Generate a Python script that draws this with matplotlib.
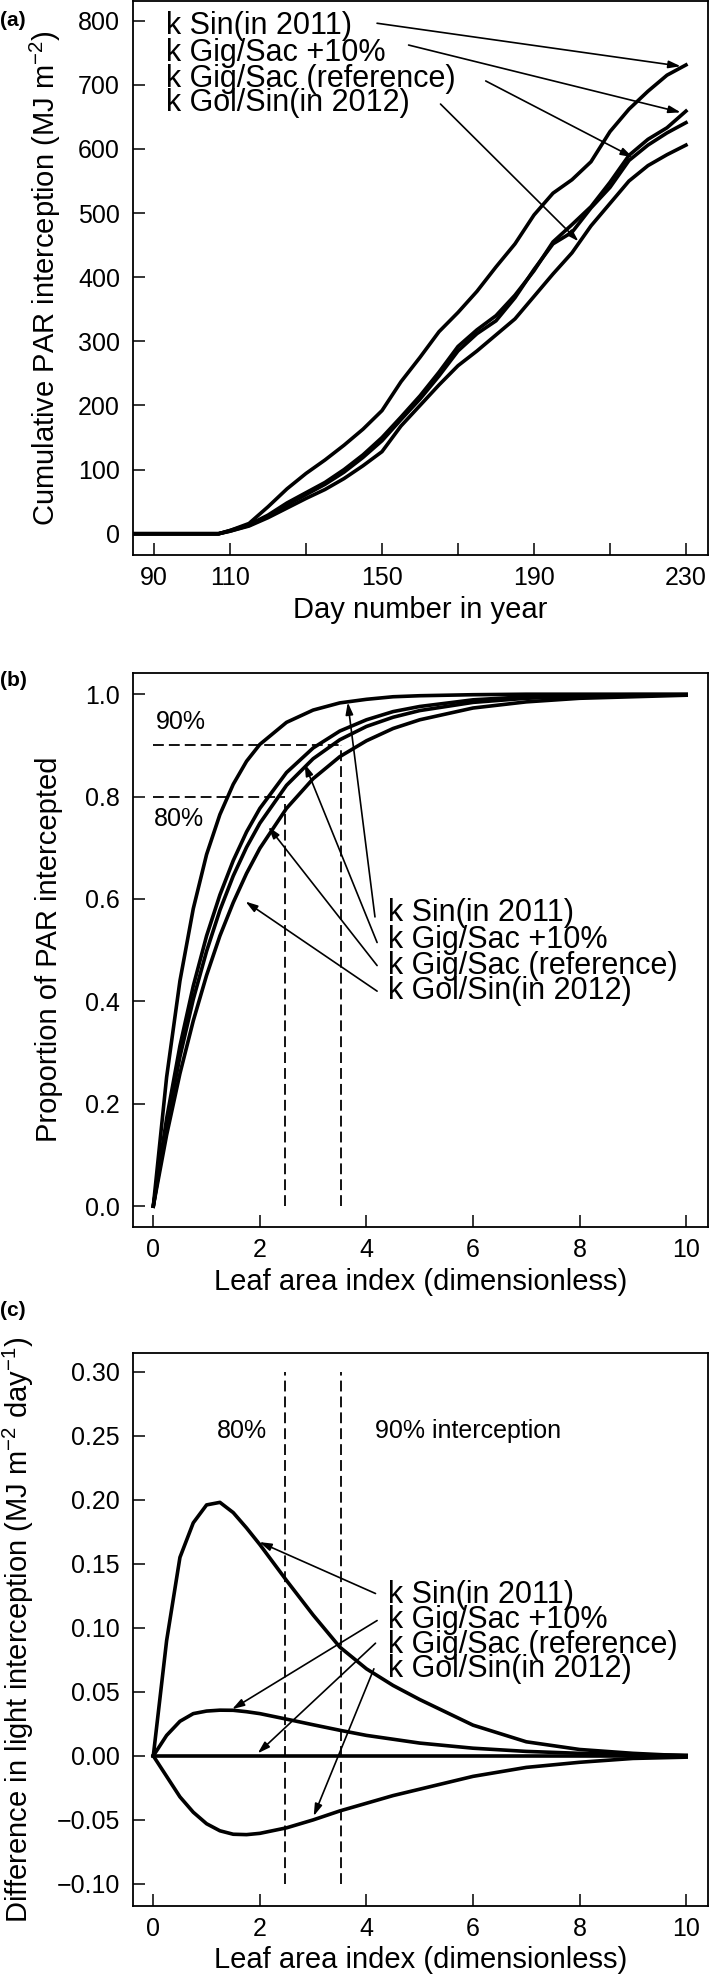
import matplotlib
matplotlib.use("Agg")
import matplotlib.pyplot as plt
from matplotlib.ticker import FixedLocator, FixedFormatter

plt.rcParams['font.family'] = ['Liberation Sans', 'DejaVu Sans']
plt.rcParams['mathtext.default'] = 'regular'

# ---- panel (a): cumulative PAR interception ----
days = [85, 100, 107, 110, 115, 120, 125, 130, 135, 140, 145, 150, 155, 160,
        165, 170, 175, 180, 185, 190, 195, 200, 205, 210, 215, 220, 225, 230]
cum_sin2011 = [0, 0, 0, 5, 16, 42, 70, 94, 115, 138, 163, 192, 237, 275,
               315, 345, 378, 416, 452, 497, 531, 552, 580, 627, 662, 690, 715, 731]
cum_gig10 = [0, 0, 0, 5, 14, 29, 48, 64, 80, 100, 123, 150, 182, 215,
             252, 292, 318, 340, 372, 410, 455, 482, 510, 548, 590, 615, 633, 659]
cum_gigref = [0, 0, 0, 4, 13, 27, 45, 61, 77, 96, 119, 145, 178, 210,
              246, 285, 312, 332, 368, 412, 452, 470, 508, 540, 582, 606, 625, 641]
cum_golsin = [0, 0, 0, 4, 12, 25, 40, 55, 69, 86, 106, 128, 168, 200,
              232, 262, 285, 310, 335, 370, 405, 438, 480, 515, 550, 574, 591, 606]

# ---- panel (b): proportion of PAR intercepted vs LAI ----
lai = [0, 0.25, 0.5, 0.75, 1, 1.25, 1.5, 1.75, 2, 2.5, 3, 3.5, 4, 4.5, 5, 6, 7, 8, 9, 10]
p_sin2011 = [0, 0.252, 0.440, 0.581, 0.687, 0.765, 0.824, 0.869, 0.902, 0.945,
             0.969, 0.983, 0.990, 0.995, 0.997, 0.999, 1.0, 1.0, 1.0, 1.0]
p_gig10 = [0, 0.171, 0.313, 0.430, 0.528, 0.608, 0.675, 0.731, 0.777, 0.847,
           0.895, 0.928, 0.950, 0.966, 0.976, 0.989, 0.995, 0.998, 0.999, 0.999]
p_gigref = [0, 0.158, 0.292, 0.404, 0.498, 0.578, 0.645, 0.701, 0.748, 0.822,
            0.874, 0.911, 0.937, 0.955, 0.968, 0.984, 0.992, 0.996, 0.998, 0.999]
p_golsin = [0, 0.139, 0.259, 0.362, 0.451, 0.528, 0.593, 0.650, 0.699, 0.777,
            0.835, 0.878, 0.909, 0.933, 0.950, 0.973, 0.985, 0.992, 0.995, 0.998]

# ---- panel (c): difference in light interception vs reference ----
d_sin2011 = [0, 0.090, 0.155, 0.182, 0.196, 0.198, 0.190, 0.178, 0.165, 0.137,
             0.110, 0.085, 0.068, 0.055, 0.044, 0.024, 0.011, 0.005, 0.002, 0.0]
d_gig10 = [0, 0.016, 0.027, 0.033, 0.035, 0.0357, 0.0356, 0.0345, 0.033, 0.0287,
           0.0243, 0.020, 0.016, 0.013, 0.010, 0.006, 0.0035, 0.002, 0.001, 0.0005]
d_gigref = [0] * 20
d_golsin = [0, -0.016, -0.032, -0.044, -0.053, -0.0585, -0.0612, -0.0615, -0.0605, -0.0562,
            -0.050, -0.043, -0.037, -0.031, -0.026, -0.016, -0.009, -0.005, -0.002, -0.001]

labels = ['k Sin(in 2011)', 'k Gig/Sac +10%', 'k Gig/Sac (reference)', 'k Gol/Sin(in 2012)']

lai80 = 2.47
lai90 = 3.53

fig = plt.figure(figsize=(7.09, 19.82), dpi=100)
ax1 = fig.add_axes([0.1869, 0.7201, 0.8117, 0.2794])
ax2 = fig.add_axes([0.1869, 0.3811, 0.8117, 0.2795])
ax3 = fig.add_axes([0.1869, 0.0385, 0.8117, 0.2787])

curve_lw = 2.6
arrow = dict(arrowstyle='-|>,head_length=0.45,head_width=0.14', lw=1.2, color='k',
             shrinkA=0, shrinkB=0, mutation_scale=16)
dash = (0, (6, 2.8))


def style(ax):
    for s in ax.spines.values():
        s.set_linewidth(1.3)
    ax.tick_params(direction='in', length=8.5, width=1.1, labelsize=18, pad=8)
    ax.tick_params(axis='y', pad=9)


# Panel (a)
for y in [cum_sin2011, cum_gig10, cum_gigref, cum_golsin]:
    ax1.plot(days, y, color='k', lw=curve_lw, solid_joinstyle='round')
ax1.set_xlim(84.34, 235.8)
ax1.set_ylim(-32.8, 830.7)
ax1.xaxis.set_major_locator(FixedLocator(range(90, 231, 20)))
ax1.xaxis.set_major_formatter(FixedFormatter(['90', '110', '', '150', '', '190', '', '230']))
ax1.set_yticks(range(0, 801, 100))
style(ax1)
ax1.set_xlabel('Day number in year', fontsize=21, va='center')
ax1.xaxis.set_label_coords(0.5, -0.099)
ax1.set_ylabel('Cumulative PAR interception (MJ m$^{-2}$)', fontsize=21, va='center')
ax1.yaxis.set_label_coords(-0.152, 0.5)

text_a = [791, 749, 709, 671]
for lab, ty in zip(labels, text_a):
    ax1.text(93.2, ty, lab, fontsize=22, va='center', ha='left')
arrows_a = [((148.7, 796), (228.6, 729)), ((157, 762), (228.6, 657)),
            ((177.3, 706), (216, 587)), ((165.4, 670), (201.7, 456))]
for tail, head in arrows_a:
    ax1.annotate('', xy=head, xytext=tail, arrowprops=arrow)

# Panel (b)
for y in [p_sin2011, p_gig10, p_gigref, p_golsin]:
    ax2.plot(lai, y, color='k', lw=curve_lw, solid_joinstyle='round')
ax2.plot([0, lai90], [0.9, 0.9], color='k', lw=1.3, linestyle=dash)
ax2.plot([0, lai80], [0.8, 0.8], color='k', lw=1.3, linestyle=dash)
ax2.plot([lai80, lai80], [0, 0.786], color='k', lw=1.3, linestyle=dash)
ax2.plot([lai90, lai90], [0, 0.9], color='k', lw=1.3, linestyle=dash)
ax2.text(0.04, 0.946, '90%', fontsize=18, va='center', ha='left')
ax2.text(0.02, 0.757, '80%', fontsize=18, va='center', ha='left')
ax2.set_xlim(-0.39, 10.41)
ax2.set_ylim(-0.040, 1.042)
ax2.set_xticks(range(0, 11, 2))
ax2.set_yticks([0, 0.2, 0.4, 0.6, 0.8, 1.0])
ax2.set_yticklabels(['0.0', '0.2', '0.4', '0.6', '0.8', '1.0'])
style(ax2)
ax2.set_xlabel('Leaf area index (dimensionless)', fontsize=21, va='center')
ax2.xaxis.set_label_coords(0.5, -0.099)
ax2.set_ylabel('Proportion of PAR intercepted', fontsize=21, va='center')
ax2.yaxis.set_label_coords(-0.145, 0.5)

text_b = [0.572, 0.520, 0.470, 0.420]
for lab, ty in zip(labels, text_b):
    ax2.text(4.4, ty, lab, fontsize=22, va='center', ha='left')
arrows_b = [((4.16, 0.565), (3.65, 0.984)), ((4.2, 0.515), (2.84, 0.864)),
            ((4.2, 0.470), (2.16, 0.741)), ((4.2, 0.420), (1.73, 0.595))]
for tail, head in arrows_b:
    ax2.annotate('', xy=head, xytext=tail, arrowprops=arrow)

# Panel (c)
for y in [d_sin2011, d_gig10, d_gigref, d_golsin]:
    ax3.plot(lai, y, color='k', lw=curve_lw, solid_joinstyle='round')
ax3.plot([lai80, lai80], [-0.10, 0.30], color='k', lw=1.3, linestyle=dash)
ax3.plot([lai90, lai90], [-0.10, 0.30], color='k', lw=1.3, linestyle=dash)
ax3.text(1.66, 0.254, '80%', fontsize=18, va='center', ha='center')
ax3.text(4.17, 0.254, '90% interception', fontsize=18, va='center', ha='left')
ax3.set_xlim(-0.39, 10.41)
ax3.set_ylim(-0.117, 0.3144)
ax3.set_xticks(range(0, 11, 2))
yt = [-0.10, -0.05, 0.0, 0.05, 0.10, 0.15, 0.20, 0.25, 0.30]
ax3.set_yticks(yt)
ax3.set_yticklabels([f'{v:.2f}'.replace('-', '\u2212') for v in yt])
style(ax3)
ax3.set_xlabel('Leaf area index (dimensionless)', fontsize=21, va='center')
ax3.xaxis.set_label_coords(0.5, -0.099)
ax3.set_ylabel('Difference in light interception (MJ m$^{-2}$ day$^{-1}$)', fontsize=21, va='center')
ax3.yaxis.set_label_coords(-0.198, 0.5)

text_c = [0.1257, 0.106, 0.0866, 0.0675]
for lab, ty in zip(labels, text_c):
    ax3.text(4.4, ty, lab, fontsize=22, va='center', ha='left')
arrows_c = [((4.17, 0.1268), (1.99, 0.167)), ((4.2, 0.1057), (1.48, 0.0365)),
            ((4.17, 0.088), (1.96, 0.002)), ((4.14, 0.068), (3.01, -0.047))]
for tail, head in arrows_c:
    ax3.annotate('', xy=head, xytext=tail, arrowprops=arrow)

# panel letters
fig.text(0.0, 1 - 20 / 1982, '(a)', fontsize=15, fontweight='bold', va='center', ha='left')
fig.text(0.0, 1 - 681 / 1982, '(b)', fontsize=15, fontweight='bold', va='center', ha='left')
fig.text(0.0, 1 - 1310 / 1982, '(c)', fontsize=15, fontweight='bold', va='center', ha='left')

fig.savefig('out.png', dpi=100)
